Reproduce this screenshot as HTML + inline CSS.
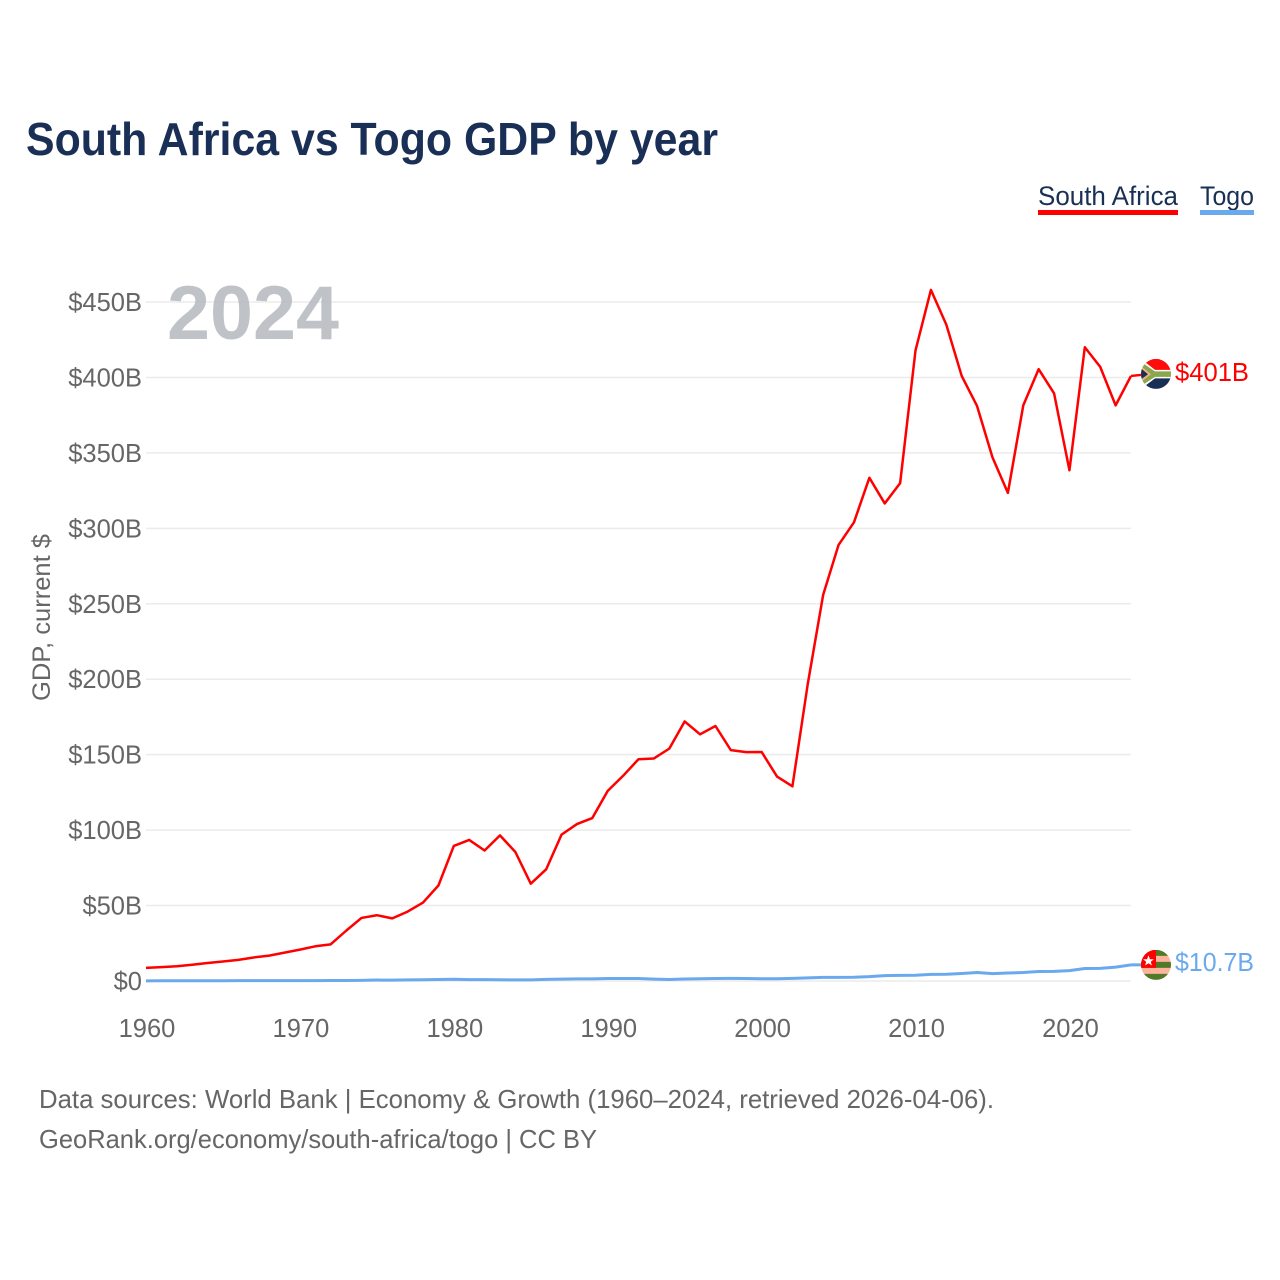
<!DOCTYPE html>
<html lang="en">
<head>
<meta charset="utf-8">
<title>South Africa vs Togo GDP by year</title>
<style>
  html, body { margin: 0; padding: 0; background: #fff; }
  #chart { display: block; width: 1280px; height: 1280px; font-family: "Liberation Sans", sans-serif; }
  .tick { font-size: 25.5px; fill: #666; }
</style>
</head>
<body>
<svg id="chart" xmlns="http://www.w3.org/2000/svg" width="1280" height="1280" viewBox="0 0 1280 1280">
  <rect x="0" y="0" width="1280" height="1280" fill="#ffffff"/>
  <text x="26" y="155" font-size="46" font-weight="700" fill="#1a2f55" textLength="692" lengthAdjust="spacingAndGlyphs">South Africa vs Togo GDP by year</text>

  <g>
    <text x="1038" y="205" font-size="27" fill="#1a2f55" textLength="140" lengthAdjust="spacingAndGlyphs">South Africa</text>
    <rect x="1038" y="210" width="140" height="5" fill="#ff0000"/>
  </g>
  <g>
    <text x="1200" y="205" font-size="27" fill="#1a2f55" textLength="54" lengthAdjust="spacingAndGlyphs">Togo</text>
    <rect x="1200" y="210" width="54" height="5" fill="#6aa9ee"/>
  </g>

  <g id="grid"></g>
  <g id="y-ticks"></g>
  <g id="x-ticks"></g>

  <text transform="translate(50,617.5) rotate(-90)" text-anchor="middle" font-size="25" fill="#666" textLength="167" lengthAdjust="spacingAndGlyphs">GDP, current $</text>

  <text x="167" y="339" font-size="76" font-weight="700" fill="#b4b9be" fill-opacity="0.85" textLength="172" lengthAdjust="spacingAndGlyphs">2024</text>

  <g id="series"></g>

  <defs>
    <clipPath id="flag-clip"><circle cx="0" cy="0" r="15"/></clipPath>
  </defs>

  <g id="flag-za">
    <g clip-path="url(#flag-clip)">
      <rect x="-15" y="-15" width="30" height="15" fill="#ff0d0d"/>
      <rect x="-15" y="0" width="30" height="15" fill="#1a2f55"/>
      <path d="M-15,-15 L-1,-4 L15,-4 L15,4.5 L-1,4.5 L-15,15 Z" fill="#ffffff"/>
      <path d="M-15,-12 L-1,-2.6 L15,-2.6 L15,3 L-1,3 L-15,12 Z" fill="#8aa84b"/>
      <path d="M-15,-8 L-5,0.3 L-15,8 Z" fill="#f4b183"/>
      <path d="M-15,-5.5 L-8,0.3 L-15,5.5 Z" fill="#1a2f55"/>
    </g>
  </g>
  <g id="flag-tg">
    <g clip-path="url(#flag-clip)">
      <rect x="-15" y="-15" width="30" height="30" fill="#ffb39c"/>
      <rect x="-15" y="-15" width="30" height="6" fill="#4f7a28"/>
      <rect x="-15" y="-3" width="30" height="6" fill="#4f7a28"/>
      <rect x="-15" y="9" width="30" height="6" fill="#4f7a28"/>
      <rect x="-15" y="-15" width="15" height="18" fill="#ff0000"/>
      <path d="M-7.5,-9.5 L-6,-5.6 L-2.1,-5.6 L-5.2,-3.1 L-4.1,0.6 L-7.5,-1.6 L-10.9,0.6 L-9.8,-3.1 L-12.9,-5.6 L-9,-5.6 Z" fill="#ffffff"/>
    </g>
  </g>

  <text id="label-za" x="1175" font-size="25.5" fill="#ff0000" textLength="74" lengthAdjust="spacingAndGlyphs">$401B</text>
  <text id="label-tg" x="1175" font-size="25.5" fill="#6aa9ee" textLength="79" lengthAdjust="spacingAndGlyphs">$10.7B</text>

  <text x="39" y="1108" font-size="26" fill="#666" textLength="955" lengthAdjust="spacingAndGlyphs">Data sources: World Bank | Economy &amp; Growth (1960–2024, retrieved 2026-04-06).</text>
  <text x="39" y="1148" font-size="26" fill="#666" textLength="558" lengthAdjust="spacingAndGlyphs">GeoRank.org/economy/south-africa/togo | CC BY</text>
</svg>

<script>
const startYear = 1960;
const yTickValues = [0, 50, 100, 150, 200, 250, 300, 350, 400, 450];
const yTickLabels = ["$0", "$50B", "$100B", "$150B", "$200B", "$250B", "$300B", "$350B", "$400B", "$450B"];
const xTickYears = [1960, 1970, 1980, 1990, 2000, 2010, 2020];
const southAfricaGdp = [
  8.7, 9.2, 9.8, 10.8, 11.9, 12.9, 14.0, 15.6, 16.8, 18.8,
  20.8, 23.0, 24.3, 33.3, 41.8, 43.6, 41.5, 46.0, 52.0, 63.3,
  89.5, 93.5, 86.5, 96.5, 85.5, 64.5, 74.0, 97.0, 104.0, 108.0,
  126.0, 136.0, 147.0, 147.5, 154.0, 172.0, 163.5, 169.0, 153.0, 151.7,
  151.8, 135.5, 129.0, 197.0, 256.0, 289.0, 304.0, 333.5, 316.5, 330.0,
  418.0, 458.0, 435.0, 401.0, 381.0, 347.0, 323.5, 381.5, 405.5, 389.5,
  338.5, 420.0, 407.0, 381.5, 401.0
];
const togoGdp = [
  0.12, 0.13, 0.14, 0.15, 0.17, 0.19, 0.22, 0.23, 0.25, 0.27,
  0.25, 0.28, 0.32, 0.36, 0.43, 0.62, 0.60, 0.71, 0.84, 0.98,
  1.14, 0.95, 0.88, 0.80, 0.75, 0.76, 1.06, 1.25, 1.39, 1.37,
  1.63, 1.65, 1.69, 1.23, 0.98, 1.31, 1.49, 1.69, 1.72, 1.62,
  1.48, 1.45, 1.75, 2.10, 2.40, 2.40, 2.50, 2.90, 3.60, 3.70,
  3.80, 4.40, 4.50, 5.00, 5.60, 4.90, 5.30, 5.60, 6.30, 6.40,
  6.90, 8.30, 8.40, 9.20, 10.70
];

const SVG_NS = "http://www.w3.org/2000/svg";
const xScale = function (year) { return 146 + (year - 1960) * (1131 - 146) / 64; };
const xLabelScale = function (year) { return xScale(year) + 1; };
const yScale = function (value) { return 981 - value * (981 - 302) / 450; };
const plotRight = 1131;

function make(tag, attrs, parent) {
  const el = document.createElementNS(SVG_NS, tag);
  Object.keys(attrs).forEach(function (k) { el.setAttribute(k, attrs[k]); });
  parent.appendChild(el);
  return el;
}

const gridGroup = document.getElementById("grid");
const yTickGroup = document.getElementById("y-ticks");
const xTickGroup = document.getElementById("x-ticks");
const seriesGroup = document.getElementById("series");

yTickValues.forEach(function (v, i) {
  const line = make("line", { x1: 146, x2: plotRight, y1: yScale(v), y2: yScale(v), stroke: "#ebebeb", "stroke-width": 1.5 }, gridGroup);
  
  
  const label = make("text", { x: 142, y: yScale(v) + 9, "text-anchor": "end", class: "tick" }, yTickGroup);
  
  
  label.textContent = yTickLabels[i];
});

xTickYears.forEach(function (year) {
  const label = make("text", { x: xLabelScale(year), y: 1037, "text-anchor": "middle", class: "tick" }, xTickGroup);
  
  
  label.textContent = String(year);
});

function points(values) {
  return values.map(function (v, i) {
    return xScale(startYear + i).toFixed(2) + "," + yScale(v).toFixed(2);
  }).join(" ");
}

const lastYear = startYear + southAfricaGdp.length - 1;
const zaLast = southAfricaGdp[southAfricaGdp.length - 1];
const tgLast = togoGdp[togoGdp.length - 1];
const zaFlagY = yScale(zaLast) - 2;
const tgFlagY = yScale(tgLast);

const tgLine = make("polyline", { points: points(togoGdp), fill: "none", stroke: "#6aa9ee", "stroke-width": 3, "stroke-linejoin": "round" }, seriesGroup);



const zaLine = make("polyline", { points: points(southAfricaGdp), fill: "none", stroke: "#ff0000", "stroke-width": 2.5, "stroke-linejoin": "round" }, seriesGroup);



const zaLead = make("line", { x1: xScale(lastYear), y1: yScale(zaLast), x2: 1141, y2: zaFlagY + 1, stroke: "#ff0000", "stroke-width": 2.5 }, seriesGroup);



const tgLead = make("line", { x1: xScale(lastYear), y1: yScale(tgLast), x2: 1141, y2: tgFlagY, stroke: "#6aa9ee", "stroke-width": 3 }, seriesGroup);



document.getElementById("flag-za").setAttribute("transform", "translate(1156," + zaFlagY + ")");
document.getElementById("flag-tg").setAttribute("transform", "translate(1156," + tgFlagY + ")");
document.getElementById("label-za").setAttribute("y", zaFlagY + 7);
document.getElementById("label-tg").setAttribute("y", tgFlagY + 6);
</script>
</body>
</html>
